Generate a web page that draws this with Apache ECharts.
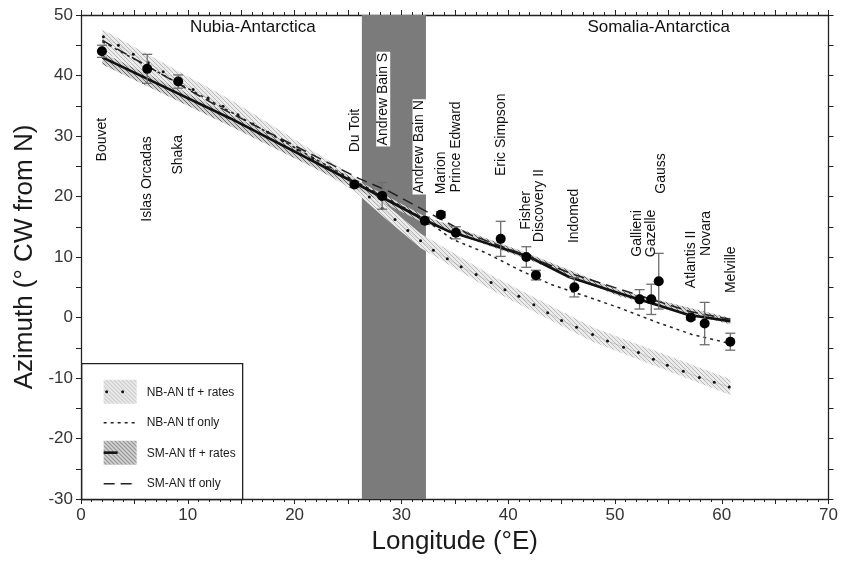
<!DOCTYPE html>
<html>
<head>
<meta charset="utf-8">
<script src="https://cdn.jsdelivr.net/npm/echarts/dist/echarts.min.js"></script>
<style>
  html, body { margin: 0; padding: 0; background: #fff; }
  #chart { width: 841px; height: 565px; }
</style>
</head>
<body>
<div id="chart"></div>
<script>
// observed transform azimuths (deg CW from N) with 1-sigma errors
var ridgeNames = ['Bouvet', 'Islas Orcadas', 'Shaka', 'Du Toit', 'Andrew Bain S', 'Andrew Bain N', 'Marion',
  'Prince Edward', 'Eric Simpson', 'Fisher', 'Discovery II', 'Indomed', 'Gallieni', 'Gazelle', 'Gauss',
  'Atlantis II', 'Novara', 'Melville'];
var ridgeLon = [1.96, 6.2, 9.1, 25.6, 28.2, 32.2, 33.7, 35.1, 39.3, 41.7, 42.6, 46.2, 52.3, 53.4, 54.1, 57.1, 58.4, 60.8];
var ridgeAz = [44, 41.1, 39, 22, 20.1, 16, 17, 14, 13, 10, 7, 5, 3, 3, 6, 0, -1, -4];
var ridgeErr = [1.0, 2.4, 1.1, 0.5, 2.2, 0.6, 0.5, 1.0, 2.9, 1.7, 0.8, 1.6, 1.6, 2.5, 4.6, 0.4, 3.5, 1.4];
// where each name is written (centre of the vertical text, data units)
var labelLon = [1.96, 6.2, 9.1, 25.7, 28.3, 31.7, 33.7, 35.1, 39.3, 41.7, 42.9, 46.2, 52.1, 53.4, 54.3, 57.1, 58.5, 60.9];
var labelAz = [29.4, 22.9, 26.9, 30.9, 36.1, 28.2, 23.9, 28.2, 30.2, 17.7, 18.5, 16.8, 13.9, 13.9, 23.8, 9.6, 13.9, 7.9];

// NB-AN tf + rates (dots) and its uncertainty band
var nbRatesLon = [2.1, 3.5, 4.9, 6.3, 7.7, 9.1, 10.5, 11.9, 13.3, 14.7, 16.1, 17.5, 18.9, 20.3, 21.7, 23.1, 24.5, 25.8,
  27.0, 28.2, 29.4, 30.6, 31.8, 33.0, 34.3, 35.6, 37.0, 38.4, 39.7, 41.0, 42.4, 43.7, 45.0, 46.4, 47.9, 49.3, 50.8,
  52.2, 53.6, 54.9, 56.4, 57.9, 59.3, 60.7];
var nbRatesAz = [46.4, 45.0, 43.5, 42.1, 40.6, 39.2, 37.7, 36.3, 34.9, 33.5, 32.0, 30.6, 29.2, 27.7, 26.3, 24.8, 23.4, 22.0,
  19.9, 18.0, 16.2, 14.4, 12.7, 11.1, 9.7, 8.4, 7.1, 5.8, 4.6, 3.5, 2.1, 0.8, -0.5, -1.6, -2.8, -3.9, -4.9,
  -5.8, -6.9, -7.9, -8.9, -9.9, -10.7, -11.5];
var nbBandLon = [2.0, 14.0, 25.6, 28.2, 31.8, 38.4, 47.9, 60.8];
var nbBandLo = [44.0, 33.0, 20.9, 16.8, 11.5, 4.6, -4.0, -12.8];
var nbBandHi = [47.6, 36.0, 23.3, 19.2, 13.9, 7.0, -1.6, -10.2];

// NB-AN tf only
var nbTfLon = [2.0, 14.0, 25.6, 30.1, 32.2, 34.8, 37.9, 41.0, 44.1, 47.3, 50.4, 54.1, 57.2, 60.8];
var nbTfAz = [45.6, 34.0, 22.6, 18.3, 16.2, 12.9, 10.7, 7.9, 5.4, 3.5, 1.6, -0.9, -2.8, -4.3];

// SM-AN tf + rates (solid) and its band
var smRatesLon = [2.0, 14.0, 25.5, 32.1, 34.5, 37.6, 42.0, 45.7, 50.4, 54.1, 56.9, 60.8];
var smRatesAz = [43.0, 32.9, 22.4, 16.2, 14.2, 12.5, 10.0, 6.7, 4.0, 2.0, 0.4, -0.6];
var smBandLon = [2.0, 14.0, 25.5, 32.1, 42.0, 50.4, 60.8];
var smBandLo = [41.8, 31.6, 21.5, 15.6, 9.5, 3.5, -1.1];
var smBandHi = [43.8, 33.6, 23.0, 16.8, 10.5, 4.5, -0.1];

// SM-AN tf only
var smTfLon = [2.0, 13.0, 26.0, 28.9, 33.2, 36.4, 40.7, 46.0, 52.0, 57.0, 60.8];
var smTfAz = [45.8, 34.7, 23.0, 20.8, 16.7, 13.7, 10.9, 7.2, 3.8, 1.0, -0.3];

var boundaryZone = [26.3, 32.3];
var regionNames = ['Nubia-Antarctica', 'Somalia-Antarctica'];
var regionLon = [16.1, 54.1];
var regionAz = [47.9, 47.9];

var FONT = '"Liberation Sans", Arial, sans-serif';

function hatch(bg, fg, size, lw) {
  var c = document.createElement('canvas');
  c.width = size; c.height = size;
  var g = c.getContext('2d');
  g.fillStyle = bg;
  g.fillRect(0, 0, size, size);
  g.strokeStyle = fg;
  g.lineWidth = lw;
  g.beginPath();
  [-size, 0, size].forEach(function (k) {
    g.moveTo(k, 0);
    g.lineTo(k + size, size);
  });
  g.stroke();
  return { image: c, repeat: 'repeat' };
}
var nbPattern = hatch('#ececec', '#b8b8b8', 4, 1);
var smPattern = hatch('#d4d4d4', '#6a6a6a', 4, 1);

function zip(a, b) {
  return a.map(function (v, i) { return [v, b[i]]; });
}

function bandSeries(lon, lo, hi, fill, z) {
  return {
    type: 'custom',
    z: z,
    silent: true,
    data: lon.map(function (v, i) { return [v, lo[i], hi[i]]; }),
    renderItem: function (params, api) {
      if (params.dataIndex !== 0) return null;
      var pts = [];
      for (var i = 0; i < lon.length; i++) pts.push(api.coord([lon[i], hi[i]]));
      for (var j = lon.length - 1; j >= 0; j--) pts.push(api.coord([lon[j], lo[j]]));
      return { type: 'polygon', shape: { points: pts }, style: { fill: fill, stroke: null } };
    }
  };
}

var chart = echarts.init(document.getElementById('chart'));

var axisCommon = {
  type: 'value',
  splitLine: { show: false },
  axisLine: { show: true, onZero: false, lineStyle: { color: '#222', width: 1.3 } },
  axisTick: { show: true, inside: false, length: 5, lineStyle: { color: '#222' } }
};

var option = {
  animation: false,
  backgroundColor: '#fff',
  textStyle: { fontFamily: FONT },
  grid: { left: 81, right: 11, top: 15, bottom: 66 },
  xAxis: [
    Object.assign({}, axisCommon, {
      position: 'bottom', min: 0, max: 70, interval: 5,
      minorTick: { show: true, splitNumber: 5, length: 3, lineStyle: { color: '#222' } },
      axisLabel: { color: '#333', fontSize: 17, margin: 8, fontFamily: FONT,
        formatter: function (v) { return v % 10 === 0 ? String(v) : ''; } },
      name: 'Longitude (°E)', nameLocation: 'middle', nameGap: 30,
      nameTextStyle: { color: '#1a1a1a', fontSize: 26, fontFamily: FONT }
    }),
    Object.assign({}, axisCommon, {
      position: 'top', min: 0, max: 70, interval: 5,
      minorTick: { show: true, splitNumber: 5, length: 3, lineStyle: { color: '#222' } },
      axisLabel: { show: false }
    })
  ],
  yAxis: [
    Object.assign({}, axisCommon, {
      position: 'left', min: -30, max: 50, interval: 5,
      axisLabel: { color: '#333', fontSize: 17, margin: 8, fontFamily: FONT,
        formatter: function (v) { return v % 10 === 0 ? String(v) : ''; } },
      name: 'Azimuth (° CW from N)', nameLocation: 'middle', nameGap: 42,
      nameTextStyle: { color: '#1a1a1a', fontSize: 26, fontFamily: FONT }
    }),
    Object.assign({}, axisCommon, {
      position: 'right', min: -30, max: 50, interval: 5,
      axisLabel: { show: false }
    })
  ],
  series: [
    {
      // plate boundary zone
      type: 'line', data: [], z: 0, silent: true,
      markArea: {
        silent: true,
        itemStyle: { color: '#7b7b7b', opacity: 1 },
        data: [[{ xAxis: boundaryZone[0], yAxis: -30 }, { xAxis: boundaryZone[1], yAxis: 50 }]]
      }
    },
    bandSeries(nbBandLon, nbBandLo, nbBandHi, nbPattern, 2),
    bandSeries(smBandLon, smBandLo, smBandHi, smPattern, 3),
    {
      name: 'NB-AN tf + rates', type: 'line', z: 4, silent: true,
      data: zip(nbRatesLon, nbRatesAz),
      symbol: 'circle', symbolSize: 3, showSymbol: true,
      itemStyle: { color: '#111' },
      lineStyle: { color: '#888', width: 0.6, opacity: 0.5 }
    },
    {
      name: 'NB-AN tf only', type: 'line', z: 5, silent: true,
      data: zip(nbTfLon, nbTfAz), showSymbol: false,
      lineStyle: { color: '#222', width: 1.5, type: [3, 4] }
    },
    {
      name: 'SM-AN tf + rates', type: 'line', z: 6, silent: true,
      data: zip(smRatesLon, smRatesAz), showSymbol: false,
      lineStyle: { color: '#111', width: 2.6 }
    },
    {
      name: 'SM-AN tf only', type: 'line', z: 6, silent: true,
      data: zip(smTfLon, smTfAz), showSymbol: false,
      lineStyle: { color: '#222', width: 1.5, type: [11, 6] }
    },
    {
      // error bars
      type: 'custom', z: 7, silent: true,
      data: ridgeLon.map(function (v, i) { return [v, ridgeAz[i], ridgeErr[i]]; }),
      renderItem: function (params, api) {
        var x = api.value(0), y = api.value(1), e = api.value(2);
        var top = api.coord([x, y + e]);
        var bot = api.coord([x, y - e]);
        var st = { stroke: '#6e6e6e', lineWidth: 1.3 };
        return {
          type: 'group',
          children: [
            { type: 'line', shape: { x1: top[0], y1: top[1], x2: bot[0], y2: bot[1] }, style: st },
            { type: 'line', shape: { x1: top[0] - 5, y1: top[1], x2: top[0] + 5, y2: top[1] }, style: st },
            { type: 'line', shape: { x1: bot[0] - 5, y1: bot[1], x2: bot[0] + 5, y2: bot[1] }, style: st }
          ]
        };
      }
    },
    {
      type: 'scatter', z: 8, silent: true,
      data: zip(ridgeLon, ridgeAz),
      symbol: 'circle', symbolSize: 10,
      itemStyle: { color: '#000', opacity: 1 }
    },
    {
      // transform names
      type: 'scatter', z: 9, silent: true, symbolSize: 0,
      itemStyle: { opacity: 1 },
      data: labelLon.map(function (v, i) {
        var item = { value: [v, labelAz[i]], name: ridgeNames[i] };
        if (ridgeNames[i].indexOf('Andrew Bain') === 0) {
          item.label = { backgroundColor: '#fff', padding: [0, 1] };
        }
        return item;
      }),
      label: {
        show: true, position: 'inside', rotate: 90, opacity: 1,
        formatter: '{b}', color: '#111', fontSize: 14, fontFamily: FONT
      }
    },
    {
      type: 'scatter', z: 9, silent: true, symbolSize: 0,
      itemStyle: { opacity: 1 },
      data: regionLon.map(function (v, i) { return { value: [v, regionAz[i]], name: regionNames[i] }; }),
      label: { show: true, position: 'inside', opacity: 1, formatter: '{b}', color: '#111', fontSize: 17, fontFamily: FONT }
    }
  ],
  graphic: [
    {
      type: 'group', left: 81, top: 363, z: 100,
      children: [
        { type: 'rect', shape: { x: 0, y: 0, width: 161, height: 136 }, style: { fill: '#fff', stroke: '#222', lineWidth: 1.3 } },
        { type: 'rect', shape: { x: 22, y: 16, width: 33, height: 24 }, style: { fill: nbPattern } },
        { type: 'circle', shape: { cx: 25, cy: 28, r: 1.5 }, style: { fill: '#111' } },
        { type: 'circle', shape: { cx: 41, cy: 28, r: 1.5 }, style: { fill: '#111' } },
        { type: 'text', x: 65, y: 29, style: { text: 'NB-AN tf + rates', fill: '#1a1a1a', font: '12px ' + FONT, verticalAlign: 'middle' } },
        { type: 'line', shape: { x1: 22, y1: 59, x2: 55, y2: 59 }, style: { stroke: '#222', lineWidth: 1.5, lineDash: [3, 4] } },
        { type: 'text', x: 65, y: 59, style: { text: 'NB-AN tf only', fill: '#1a1a1a', font: '12px ' + FONT, verticalAlign: 'middle' } },
        { type: 'rect', shape: { x: 22, y: 77, width: 33, height: 24 }, style: { fill: smPattern } },
        { type: 'line', shape: { x1: 22, y1: 89, x2: 36, y2: 89 }, style: { stroke: '#111', lineWidth: 2.6 } },
        { type: 'text', x: 65, y: 90, style: { text: 'SM-AN tf + rates', fill: '#1a1a1a', font: '12px ' + FONT, verticalAlign: 'middle' } },
        { type: 'line', shape: { x1: 22, y1: 120, x2: 55, y2: 120 }, style: { stroke: '#222', lineWidth: 1.5, lineDash: [11, 6] } },
        { type: 'text', x: 65, y: 120, style: { text: 'SM-AN tf only', fill: '#1a1a1a', font: '12px ' + FONT, verticalAlign: 'middle' } }
      ]
    }
  ]
};

chart.setOption(option);
</script>
</body>
</html>
